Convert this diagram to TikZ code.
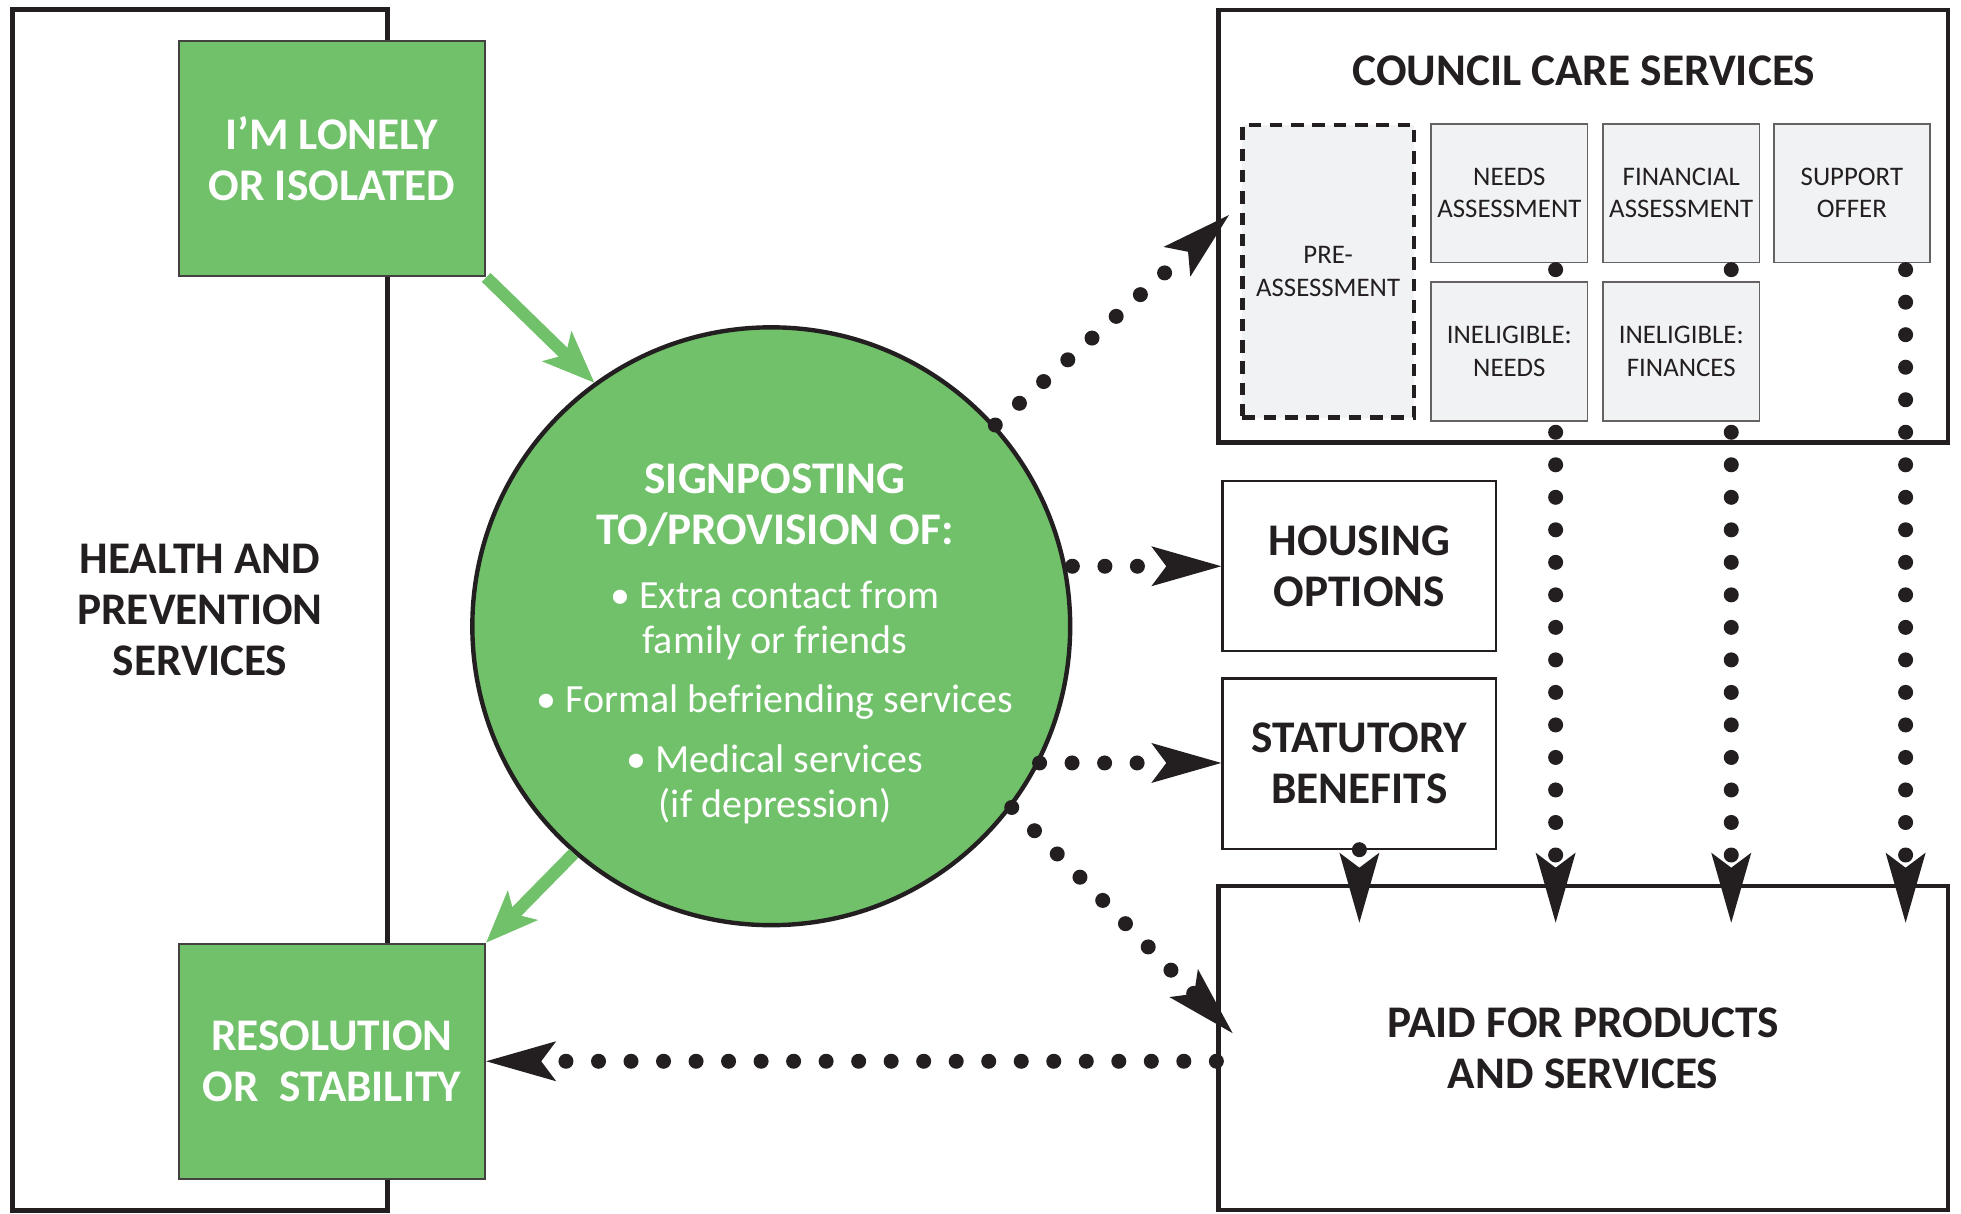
\documentclass[tikz,border=0pt]{standalone}
\usepackage{fontspec}
\setmainfont{Carlito}
\usepackage{tikz}
\usetikzlibrary{arrows.meta, calc}
\usetikzlibrary{positioning}
\definecolor{signgreen}{RGB}{112,193,106}
\definecolor{boxgray}{RGB}{241,242,244}
\definecolor{inkblack}{RGB}{35,31,32}

\begin{document}
\begin{tikzpicture}[x=0.01cm, y=-0.01cm,
    bigbox/.style={rectangle, draw=inkblack, line width=1pt, inner sep=0pt},
    title/.style={align=center, text=inkblack, font=\fontsize{10.3}{11.7}\selectfont\bfseries},
    greenbox/.style={rectangle, draw=inkblack!85, fill=signgreen, line width=0.5pt, minimum width=2.45cm, minimum height=1.88cm, align=center, text=white, font=\fontsize{10.3}{11.7}\selectfont\bfseries},
    optionbox/.style={rectangle, draw=inkblack, line width=0.5pt, minimum width=2.19cm, minimum height=1.36cm, title},
    stepbox/.style={rectangle, draw=inkblack!70, fill=boxgray, line width=0.4pt, minimum width=1.25cm, minimum height=1.11cm, inner sep=0pt, align=center, text=inkblack, font=\fontsize{6.1}{7.4}\selectfont},
    dotarrow/.style={draw=inkblack, line width=0.12cm, line cap=round, dash pattern=on 0pt off 0.26cm, -{Stealth[length=0.56cm, width=0.32cm, inset=0.12cm, line width=0pt]}},
    greenarrow/.style={draw=signgreen, line width=0.1cm, -{Stealth[length=0.42cm, width=0.34cm, inset=0.1cm, line width=0pt]}}
    ]
    \useasboundingbox (0,0) rectangle (1568.8,971.2);

    % left column
    \node[bigbox, minimum width=3cm, minimum height=9.6cm, title] (health) at (160,488) {HEALTH AND\\PREVENTION\\SERVICES};
    \node[greenbox] (lonely) at (265.5,127) {I'M LONELY\\OR ISOLATED};
    \node[greenbox] (resolution) at (265.5,849) {RESOLUTION\\OR\ \ STABILITY};

    % the circle in the middle
    \node[circle, draw=inkblack, line width=1pt, fill=signgreen, minimum size=4.78cm, inner sep=0pt] (sign) at (617,501) {};
    \node[anchor=north, inner sep=0pt, align=center, text=white, font=\fontsize{9.1}{10.2}\selectfont] (signtext) at (620,370)
        {{\fontsize{10.3}{11.7}\selectfont\bfseries SIGNPOSTING}\\[1.5pt]
         {\fontsize{10.3}{11.7}\selectfont\bfseries TO/PROVISION OF:}\\[4.3pt]
         • Extra contact from\\family or friends\\[3.4pt]
         • Formal befriending services\\[3.4pt]
         • Medical services\\(if depression)};

    % council care services
    \node[bigbox, minimum width=5.83cm, minimum height=3.46cm] (council) at (1266.5,181) {};
    \node[title] (counciltitle) at (1267,57) {COUNCIL CARE SERVICES};
    \node[stepbox, minimum width=1.37cm, minimum height=2.34cm, draw=inkblack, line width=0.035cm, dash pattern=on 0.1cm off 0.07cm] (pre) at (1062.5,217) {PRE-\\ASSESSMENT};
    \node[stepbox] (needs) at (1207.5,154.5) {NEEDS\\ASSESSMENT};
    \node[stepbox, right=0.11cm of needs] (financial) {FINANCIAL\\ASSESSMENT};
    \node[stepbox, right=0.1cm of financial] (support) {SUPPORT\\OFFER};

    \node[optionbox] (housing) at (1087.5,453) {HOUSING\\OPTIONS};
    \node[optionbox, below=0.2cm of housing] (statutory) {STATUTORY\\BENEFITS};
    \node[bigbox, minimum width=5.83cm, minimum height=2.59cm, title] (paid) at (1266.5,838.5) {PAID FOR PRODUCTS\\AND SERVICES};

    % dotted lines down to paid services, under the ineligible boxes
    \foreach \step/\dx in {needs/37, financial/40, support/43} {
        \draw[dotarrow] ($(\step.south)+(\dx,5)$) -- ($(\step.south |- paid.north)+(\dx,31)$);
    }
    \node[stepbox, below=0.14cm of needs] (ineedneeds) {INELIGIBLE:\\NEEDS};
    \node[stepbox, below=0.14cm of financial] (ineedfin) {INELIGIBLE:\\FINANCES};
    \draw[dotarrow] (statutory.south) -- ($(statutory.south |- paid.north)+(0,31)$);

    % from the circle
    \coordinate (pretip) at ($(pre.west)+(-9,-45)$);
    \coordinate (paidtip) at ($(paid.west)+(13,-12)$);
    \draw[dotarrow] (sign) -- (pretip);
    \draw[dotarrow] (sign.east |- housing.west) -- (housing.west);
    \draw[dotarrow] (sign.-27) -- (sign.-27 -| statutory.west);
    \draw[dotarrow] (sign.-37) -- (paidtip);
    \draw[dotarrow] (resolution.east -| paid.west) -- (resolution.east);

    \draw[greenarrow] (lonely.south east) -- (sign.126);
    \draw[greenarrow] (sign.229) -- (resolution.north east);
\end{tikzpicture}
\end{document}
